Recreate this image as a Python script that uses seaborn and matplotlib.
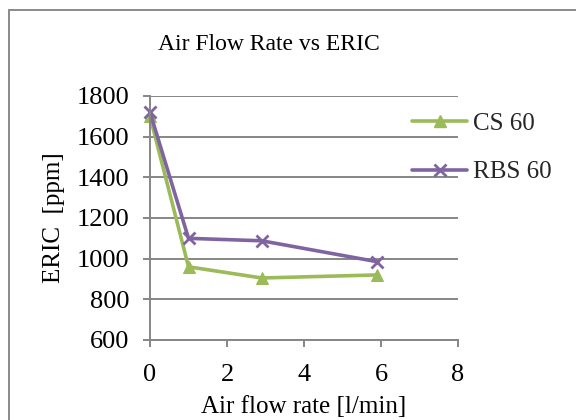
import matplotlib
matplotlib.use("Agg")
import matplotlib.pyplot as plt
import seaborn as sns
import pandas as pd
from matplotlib.lines import Line2D

# Data
air_flow_cs = [0, 1, 2.9, 5.9]
eric_cs = [1700, 960, 905, 920]
air_flow_rbs = [0, 1, 2.9, 5.9]
eric_rbs = [1720, 1100, 1088, 985]
series_names = ["CS 60", "RBS 60"]
x_ticks = [0, 2, 4, 6, 8]
y_ticks = [600, 800, 1000, 1200, 1400, 1600, 1800]

df_cs = pd.DataFrame({"x": air_flow_cs, "y": eric_cs})
df_rbs = pd.DataFrame({"x": air_flow_rbs, "y": eric_rbs})

sns.set_theme(style="white")
plt.rcParams["font.family"] = ["Liberation Serif", "DejaVu Serif"]

green = "#9BBB59"
purple = "#8064A2"
grid_gray = "#868686"

fig = plt.figure(figsize=(5.76, 4.2), dpi=100)
ax = fig.add_axes([150 / 576, 1 - 340 / 420, (458 - 150) / 576, (340 - 96) / 420])

sns.lineplot(data=df_cs, x="x", y="y", color=green, marker="^", linewidth=2.6,
             markersize=8, markeredgecolor=green, ax=ax, sort=False, clip_on=False)
sns.lineplot(data=df_rbs, x="x", y="y", color=purple, marker="x", linewidth=2.6,
             markersize=8, markeredgewidth=2, markeredgecolor=purple, ax=ax,
             sort=False, clip_on=False)

ax.set_xlim(0, 8)
ax.set_ylim(600, 1800)
ax.set_xticks(x_ticks)
ax.set_yticks(y_ticks)
ax.set_xticklabels([str(v) for v in x_ticks])
ax.set_yticklabels([str(v) for v in y_ticks])

ax.yaxis.grid(True, color=grid_gray, linewidth=1.4)
ax.xaxis.grid(False)
ax.set_axisbelow(True)
for side in ["top", "right"]:
    ax.spines[side].set_visible(False)
for side in ["left", "bottom"]:
    ax.spines[side].set_color(grid_gray)
    ax.spines[side].set_linewidth(1.4)

ax.tick_params(axis="both", which="major", direction="out", length=5, width=1.4,
               color=grid_gray, labelsize=19, labelcolor="black")
ax.tick_params(axis="x", pad=12, bottom=True)
ax.tick_params(axis="y", pad=10, left=True)

ax.set_xlabel("Air flow rate [l/min]", fontsize=18, color="black")
ax.set_ylabel("ERIC  [ppm]", fontsize=18, color="black")
ax.xaxis.set_label_coords(0.5, -0.228)
ax.yaxis.set_label_coords(-0.276, 0.5)

fig.text(269 / 576, 1 - 45 / 420, "Air Flow Rate vs ERIC", ha="center", va="center",
         fontsize=17, color="black")

handles = [
    Line2D([0], [0], color=green, lw=2.6, marker="^", markersize=8),
    Line2D([0], [0], color=purple, lw=2.6, marker="x", markersize=8, markeredgewidth=2),
]
fig.legend(handles, series_names, loc="upper left",
           bbox_to_anchor=(412 / 576, 1 - 112 / 420), frameon=False,
           fontsize=18, handlelength=2.2, handletextpad=0.25,
           labelspacing=1.05, borderaxespad=0, borderpad=0)

# figure border (top-left corner visible)
fig.add_artist(Line2D([9 / 576, 9 / 576], [0, 1 - 10 / 420], color="#8a8a8a",
                      lw=1.4, transform=fig.transFigure))
fig.add_artist(Line2D([9 / 576, 1], [1 - 10 / 420, 1 - 10 / 420], color="#8a8a8a",
                      lw=1.4, transform=fig.transFigure))

fig.savefig("out.png", dpi=100)
